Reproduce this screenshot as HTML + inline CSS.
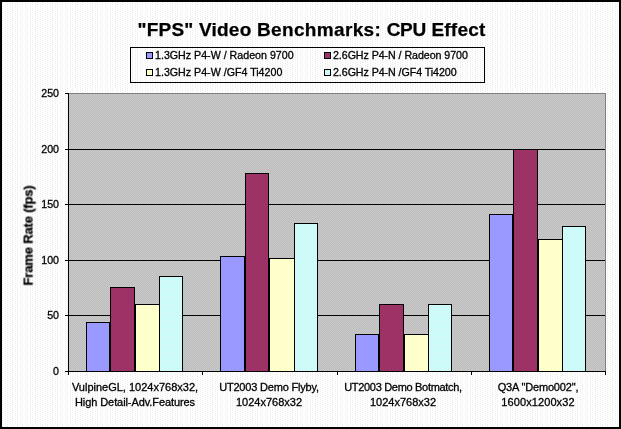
<!DOCTYPE html>
<html><head><meta charset="utf-8"><title>"FPS" Video Benchmarks: CPU Effect</title>
<style>
html,body{margin:0;padding:0;}
body{width:621px;height:429px;overflow:hidden;background:#fff;font-family:"Liberation Sans",sans-serif;color:#000;position:relative;}
#g{position:absolute;left:0;top:0;display:block;}
.t{position:absolute;white-space:nowrap;will-change:transform;}
.yl,.xl,.lg{-webkit-text-stroke:.3px #000;}
#ytitle{-webkit-text-stroke:.25px #000;}
.yl{font-size:10.67px;line-height:12px;width:30px;text-align:right;left:29.4px;}
.xl{font-size:11px;line-height:15px;text-align:center;width:134px;}
.lg{font-size:10.67px;line-height:12px;}
</style></head><body>
<svg id="g" width="621" height="429" viewBox="0 0 621 429" shape-rendering="crispEdges">
<defs>
<pattern id="pb" width="5" height="2" patternUnits="userSpaceOnUse"><rect width="5" height="2" fill="#ffffff"/><rect x="2" y="0" width="1" height="1" fill="#ebebeb"/><rect x="0" y="1" width="1" height="1" fill="#ebebeb"/></pattern>
<pattern id="pp" width="2" height="2" patternUnits="userSpaceOnUse"><rect width="2" height="2" fill="#bcbcbc"/><rect x="0" y="0" width="1" height="1" fill="#cacaca"/><rect x="1" y="1" width="1" height="1" fill="#cacaca"/></pattern>
<pattern id="pc" width="4" height="4" patternUnits="userSpaceOnUse"><rect width="4" height="4" fill="#c8fdfb"/><rect x="1" y="0" width="1" height="1" fill="#ece8e4"/><rect x="3" y="2" width="1" height="1" fill="#ece8e4"/></pattern>
</defs>
<rect x="0" y="0" width="621" height="429" fill="#000"/>
<rect x="2" y="2" width="617" height="425" fill="url(#pb)"/>
<rect x="130" y="47" width="355" height="36" fill="#000"/><rect x="131" y="48" width="353" height="34" fill="url(#pb)"/>
<rect x="146" y="52" width="7" height="7" fill="#000"/><rect x="147" y="53" width="5" height="5" fill="#9999ff"/>
<rect x="146" y="69" width="7" height="7" fill="#000"/><rect x="147" y="70" width="5" height="5" fill="#ffffcc"/>
<rect x="324" y="52" width="7" height="7" fill="#000"/><rect x="325" y="53" width="5" height="5" fill="#9c3265"/>
<rect x="324" y="69" width="7" height="7" fill="#000"/><rect x="325" y="70" width="5" height="5" fill="url(#pc)"/>
<rect x="69" y="93" width="537" height="278" fill="#808080"/>
<rect x="69" y="94" width="536" height="277" fill="url(#pp)"/>
<rect x="69" y="149" width="536" height="1" fill="#000"/>
<rect x="69" y="204" width="536" height="1" fill="#000"/>
<rect x="69" y="260" width="536" height="1" fill="#000"/>
<rect x="69" y="315" width="536" height="1" fill="#000"/>
<rect x="86" y="322" width="24" height="49" fill="#000"/>
<rect x="87" y="323" width="22" height="48" fill="#9999ff"/>
<rect x="110" y="287" width="25" height="84" fill="#000"/>
<rect x="111" y="288" width="23" height="83" fill="#9c3265"/>
<rect x="135" y="304" width="25" height="67" fill="#000"/>
<rect x="136" y="305" width="23" height="66" fill="#ffffcc"/>
<rect x="159" y="276" width="24" height="95" fill="#000"/>
<rect x="160" y="277" width="22" height="94" fill="url(#pc)"/>
<rect x="220" y="256" width="25" height="115" fill="#000"/>
<rect x="221" y="257" width="23" height="114" fill="#9999ff"/>
<rect x="245" y="173" width="24" height="198" fill="#000"/>
<rect x="246" y="174" width="22" height="197" fill="#9c3265"/>
<rect x="269" y="258" width="26" height="113" fill="#000"/>
<rect x="270" y="259" width="24" height="112" fill="#ffffcc"/>
<rect x="294" y="223" width="24" height="148" fill="#000"/>
<rect x="295" y="224" width="22" height="147" fill="url(#pc)"/>
<rect x="355" y="334" width="24" height="37" fill="#000"/>
<rect x="356" y="335" width="22" height="36" fill="#9999ff"/>
<rect x="379" y="304" width="25" height="67" fill="#000"/>
<rect x="380" y="305" width="23" height="66" fill="#9c3265"/>
<rect x="404" y="334" width="25" height="37" fill="#000"/>
<rect x="405" y="335" width="23" height="36" fill="#ffffcc"/>
<rect x="428" y="304" width="24" height="67" fill="#000"/>
<rect x="429" y="305" width="22" height="66" fill="url(#pc)"/>
<rect x="489" y="214" width="24" height="157" fill="#000"/>
<rect x="490" y="215" width="22" height="156" fill="#9999ff"/>
<rect x="513" y="149" width="25" height="222" fill="#000"/>
<rect x="514" y="150" width="23" height="221" fill="#9c3265"/>
<rect x="538" y="239" width="25" height="132" fill="#000"/>
<rect x="539" y="240" width="23" height="131" fill="#ffffcc"/>
<rect x="562" y="226" width="24" height="145" fill="#000"/>
<rect x="563" y="227" width="22" height="144" fill="url(#pc)"/>
<rect x="68" y="93" width="1" height="282" fill="#000"/>
<rect x="68" y="371" width="538" height="1" fill="#000"/>
<rect x="65" y="93" width="3" height="1" fill="#000"/>
<rect x="65" y="149" width="3" height="1" fill="#000"/>
<rect x="65" y="204" width="3" height="1" fill="#000"/>
<rect x="65" y="260" width="3" height="1" fill="#000"/>
<rect x="65" y="315" width="3" height="1" fill="#000"/>
<rect x="65" y="371" width="3" height="1" fill="#000"/>
<rect x="202" y="371" width="1" height="4" fill="#000"/>
<rect x="337" y="371" width="1" height="4" fill="#000"/>
<rect x="471" y="371" width="1" height="4" fill="#000"/>
<rect x="605" y="371" width="1" height="4" fill="#000"/>
</svg>
<div id="title" class="t" style="left:1px;top:20.3px;width:621px;text-align:center;font-weight:bold;font-size:19px;letter-spacing:.21px;-webkit-text-stroke:.25px #000;line-height:20px;">"FPS" Video <span style="letter-spacing:.35px">Benchmarks:</span> <span style="letter-spacing:-.29px">CPU</span> Effect</div>
<div class="t lg" style="left:155.4px;top:49px;">1.3GHz P4-W / Radeon 9700</div>
<div class="t lg" style="left:155.4px;top:66px;">1.3GHz P4-W /GF4 Ti4200</div>
<div class="t lg" style="left:333px;top:49px;letter-spacing:-.06px;">2.6GHz P4-N / Radeon 9700</div>
<div class="t lg" style="left:333px;top:66px;letter-spacing:-.06px;">2.6GHz P4-N /GF4 Ti4200</div>
<div class="t yl" style="top:87px">250</div>
<div class="t yl" style="top:143px">200</div>
<div class="t yl" style="top:198px">150</div>
<div class="t yl" style="top:254px">100</div>
<div class="t yl" style="top:309px">50</div>
<div class="t yl" style="top:365px">0</div>
<div id="ytitle" class="t" style="left:-21.8px;top:228.9px;width:100px;height:13px;line-height:13px;text-align:center;font-weight:bold;font-size:13px;letter-spacing:-.16px;transform:rotate(-90deg);transform-origin:center center;">Frame Rate (fps)</div>
<div class="t xl" style="left:68px;top:379.7px;letter-spacing:0px">VulpineGL, 1024x768x32,</div>
<div class="t xl" style="left:68px;top:395.0px;letter-spacing:-0.085px">High Detail-Adv.Features</div>
<div class="t xl" style="left:202px;top:379.7px;letter-spacing:-0.19px">UT2003 Demo Flyby,</div>
<div class="t xl" style="left:202px;top:395.0px;letter-spacing:0px">1024x768x32</div>
<div class="t xl" style="left:336.4px;top:379.7px;letter-spacing:-0.31px">UT2003 Demo Botmatch,</div>
<div class="t xl" style="left:336.2px;top:395.0px;letter-spacing:0px">1024x768x32</div>
<div class="t xl" style="left:471px;top:379.7px;letter-spacing:-0.165px">Q3A "Demo002",</div>
<div class="t xl" style="left:471px;top:395.0px;letter-spacing:0.09px">1600x1200x32</div>
</body></html>
